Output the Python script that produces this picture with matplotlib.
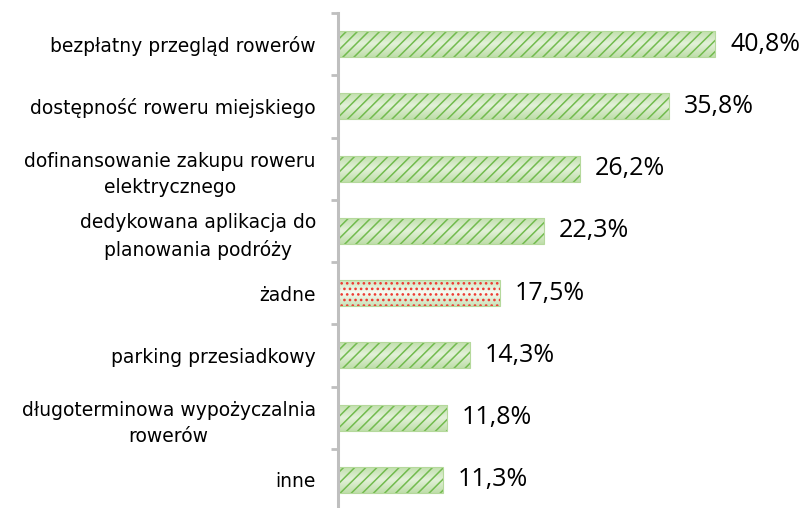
import numpy as np
import matplotlib.pyplot as plt
from matplotlib.colors import LinearSegmentedColormap

plt.rcParams['font.family'] = ['Open Sans', 'DejaVu Sans']

labels = [
    'bezpłatny przegląd rowerów',
    'dostępność roweru miejskiego',
    'dofinansowanie zakupu roweru\nelektrycznego',
    'dedykowana aplikacja do\nplanowania podróży',
    'żadne',
    'parking przesiadkowy',
    'długoterminowa wypożyczalnia\nrowerów',
    'inne',
]
values = [40.8, 35.8, 26.2, 22.3, 17.5, 14.3, 11.8, 11.3]
dotted = [False, False, False, False, True, False, False, False]

fig = plt.figure(figsize=(8.06, 5.08), dpi=100)
ax = fig.add_axes([338 / 806, -3 / 508, 462.5 / 806, 498 / 508])

y = np.arange(len(values))
h = 0.42

# light green fill, lighter towards the middle of each bar
green_grad = LinearSegmentedColormap.from_list('g', ['#bfdeaa', '#e3f1d9', '#bfdeaa'])
pale_grad = LinearSegmentedColormap.from_list('p', ['#c9e3b8', '#f7fbf4', '#c9e3b8'])
grad = np.linspace(0, 1, 64).reshape(-1, 1)

bars = ax.barh(y, values, height=h, color='none', edgecolor='#b5d99c', linewidth=0.8, zorder=4)
for bar, d in zip(bars, dotted):
    x0, y0 = bar.get_x(), bar.get_y()
    im = ax.imshow(grad, cmap=pale_grad if d else green_grad, aspect='auto',
                   extent=(x0, x0 + bar.get_width(), y0 + bar.get_height(), y0),
                   zorder=2, interpolation='bilinear')
    im.set_clip_path(bar)

plt.rcParams['hatch.linewidth'] = 1.1
for yi, v, d in zip(y, values, dotted):
    if d:
        ax.barh(yi, v, height=h, fill=False, edgecolor='#ee3b32', linewidth=0, hatch='...', zorder=3)
    else:
        ax.barh(yi, v, height=h, fill=False, edgecolor='#72bb4e', linewidth=0, hatch='///', zorder=3)

for yi, v in zip(y, values):
    ax.text(v + 1.6, yi, f'{v:.1f}%'.replace('.', ','), va='center', ha='left',
            fontsize=18, color='#000000')

ax.set_xlim(0, 50)
ax.set_ylim(len(values) - 0.5, -0.5)
ax.set_yticks(y)
ax.set_yticklabels(labels, fontsize=13.5, family=['DejaVu Sans'],
                   multialignment='center', linespacing=1.5)
ax.set_yticks(np.arange(len(values) + 1) - 0.5, minor=True)
ax.tick_params(axis='y', which='major', length=0, pad=16)
ax.tick_params(axis='y', which='minor', length=5, width=2, color='#bfbfbf')
ax.set_xticks([])
for s in ['top', 'right', 'bottom']:
    ax.spines[s].set_visible(False)
ax.spines['left'].set_color('#bfbfbf')
ax.spines['left'].set_linewidth(2.2)
ax.spines['left'].set_zorder(5)

fig.savefig('out.png', dpi=100)
